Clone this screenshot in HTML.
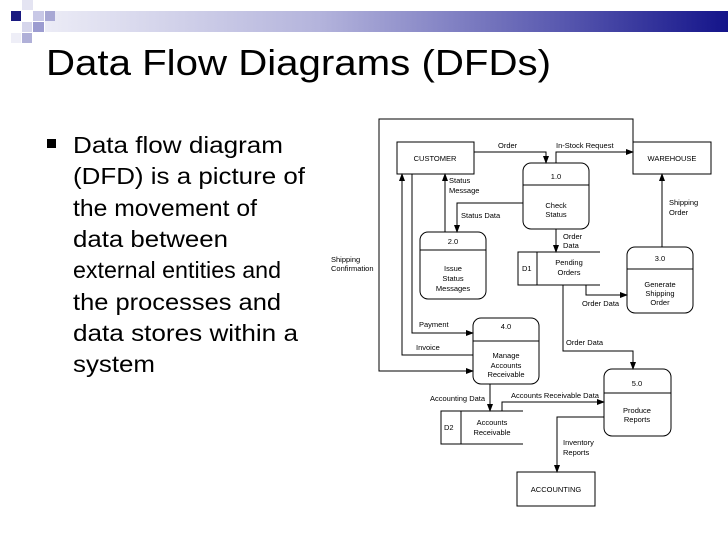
<!DOCTYPE html>
<html><head><meta charset="utf-8"><style>
html,body{margin:0;padding:0;background:#fff;}
svg{display:block;font-family:"Liberation Sans",Arial,sans-serif;}
</style></head><body>
<svg width="728" height="546" viewBox="0 0 728 546" xmlns="http://www.w3.org/2000/svg">
<defs>
<linearGradient id="g" x1="0" x2="1" y1="0" y2="0">
<stop offset="0" stop-color="#ececf6"/><stop offset="0.4" stop-color="#b4b4dc"/><stop offset="0.75" stop-color="#5a5ab0"/><stop offset="1" stop-color="#14148a"/>
</linearGradient>
<marker id="a" markerWidth="8" markerHeight="6" refX="7" refY="3" orient="auto" markerUnits="userSpaceOnUse">
<path d="M0,0 L8,3 L0,6 z" fill="#000"/></marker>
</defs>
<rect x="45" y="11" width="683" height="21" fill="url(#g)"/>
<rect x="22" y="0" width="11" height="10" fill="#e4e4f2"/>
<rect x="11" y="11" width="10" height="10" fill="#1a1a80"/>
<rect x="33" y="11" width="11" height="10" fill="#c8c8e6"/>
<rect x="45" y="11" width="10" height="10" fill="#a8a8d4"/>
<rect x="22" y="22" width="10" height="10" fill="#d6d6ec"/>
<rect x="33" y="22" width="11" height="10" fill="#9c9cd0"/>
<rect x="22" y="33" width="10" height="10" fill="#b0b0d8"/>
<rect x="11" y="33" width="10" height="10" fill="#eeeef7"/>
<text x="46" y="75" font-size="36" textLength="505" lengthAdjust="spacingAndGlyphs">Data Flow Diagrams (DFDs)</text>
<rect x="47" y="139" width="9" height="9" fill="#000"/>
<g font-size="23">
<text x="73" y="153" textLength="210" lengthAdjust="spacingAndGlyphs">Data flow diagram</text>
<text x="73" y="184" textLength="232" lengthAdjust="spacingAndGlyphs">(DFD) is a picture of</text>
<text x="73" y="216" textLength="184" lengthAdjust="spacingAndGlyphs">the movement of</text>
<text x="73" y="247" textLength="155" lengthAdjust="spacingAndGlyphs">data between</text>
<text x="73" y="278" textLength="208" lengthAdjust="spacingAndGlyphs">external entities and</text>
<text x="73" y="310" textLength="208" lengthAdjust="spacingAndGlyphs">the processes and</text>
<text x="73" y="341" textLength="225" lengthAdjust="spacingAndGlyphs">data stores within a</text>
<text x="73" y="372" textLength="82" lengthAdjust="spacingAndGlyphs">system</text>
</g>
<g stroke="#000" stroke-width="1" fill="none">
<rect x="397" y="142" width="77" height="32"/>
<rect x="633" y="142" width="78" height="32"/>
<rect x="517" y="472" width="78" height="34"/>
<rect x="523" y="163" width="66" height="66" rx="8"/><line x1="523" y1="185" x2="589" y2="185"/>
<rect x="420" y="232" width="66" height="67" rx="8"/><line x1="420" y1="250" x2="486" y2="250"/>
<rect x="627" y="247" width="66" height="66" rx="8"/><line x1="627" y1="269" x2="693" y2="269"/>
<rect x="473" y="318" width="66" height="66" rx="8"/><line x1="473" y1="341" x2="539" y2="341"/>
<rect x="604" y="369" width="67" height="67" rx="8"/><line x1="604" y1="393" x2="671" y2="393"/>
<path d="M600,252 H518 V285 H600 M537,252 V285"/>
<path d="M523,411 H441 V444 H523 M461,411 V444"/>
<path d="M474,152 H546 V163" marker-end="url(#a)"/>
<path d="M556,163 V152 H633" marker-end="url(#a)"/>
<path d="M445,232 V174" marker-end="url(#a)"/>
<path d="M523,203 H457 V232" marker-end="url(#a)"/>
<path d="M556,229 V252" marker-end="url(#a)"/>
<path d="M662,247 V174" marker-end="url(#a)"/>
<path d="M586,285 V295 H627" marker-end="url(#a)"/>
<path d="M563,285 V351 H633 V369" marker-end="url(#a)"/>
<path d="M473,355 H402 V174" marker-end="url(#a)"/>
<path d="M412,174 V333 H473" marker-end="url(#a)"/>
<path d="M633,142 V119 H379 V371 H473" marker-end="url(#a)"/>
<path d="M490,384 V411" marker-end="url(#a)"/>
<path d="M502,411 V402 H604" marker-end="url(#a)"/>
<path d="M604,417 H557 V472" marker-end="url(#a)"/>
</g>
<g font-size="7.5" fill="#000">
<g text-anchor="middle">
<text x="435" y="161">CUSTOMER</text>
<text x="672" y="161">WAREHOUSE</text>
<text x="556" y="492">ACCOUNTING</text>
<text x="556" y="179">1.0</text>
<text x="556" y="208">Check</text><text x="556" y="217">Status</text>
<text x="453" y="244">2.0</text>
<text x="453" y="271">Issue</text><text x="453" y="281">Status</text><text x="453" y="291">Messages</text>
<text x="660" y="261">3.0</text>
<text x="660" y="287">Generate</text><text x="660" y="296">Shipping</text><text x="660" y="305">Order</text>
<text x="506" y="329">4.0</text>
<text x="506" y="358">Manage</text><text x="506" y="368">Accounts</text><text x="506" y="377">Receivable</text>
<text x="637" y="386">5.0</text>
<text x="637" y="413">Produce</text><text x="637" y="422">Reports</text>
<text x="569" y="265">Pending</text><text x="569" y="275">Orders</text>
<text x="492" y="425">Accounts</text><text x="492" y="435">Receivable</text>
</g>
<text x="522" y="271">D1</text>
<text x="444" y="430">D2</text>
<text x="498" y="148">Order</text>
<text x="556" y="148">In-Stock Request</text>
<text x="449" y="183">Status</text><text x="449" y="193">Message</text>
<text x="461" y="218">Status Data</text>
<text x="563" y="239">Order</text><text x="563" y="248">Data</text>
<text x="669" y="205">Shipping</text><text x="669" y="215">Order</text>
<text x="331" y="262">Shipping</text><text x="331" y="271">Confirmation</text>
<text x="582" y="306">Order Data</text>
<text x="419" y="327">Payment</text>
<text x="416" y="350">Invoice</text>
<text x="566" y="345">Order Data</text>
<text x="430" y="401">Accounting Data</text>
<text x="511" y="398">Accounts Receivable Data</text>
<text x="563" y="445">Inventory</text><text x="563" y="455">Reports</text>
</g>
</svg>
</body></html>
